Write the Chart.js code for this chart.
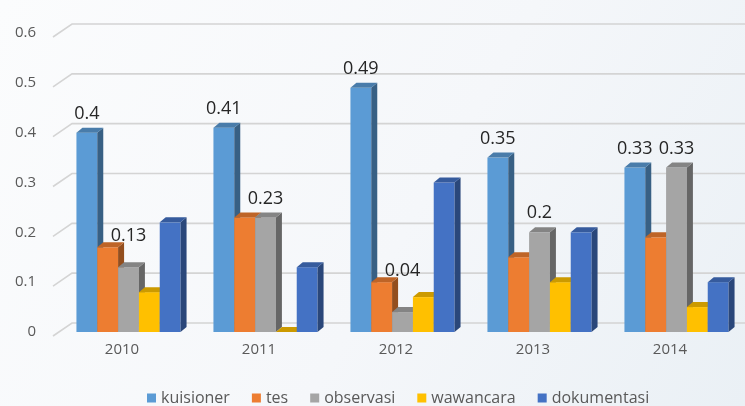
<!DOCTYPE html>
<html>
<head>
<meta charset="utf-8">
<script src="https://cdn.jsdelivr.net/npm/chart.js@4"></script>
<style>
  html, body { margin: 0; padding: 0; }
  body {
    width: 745px; height: 406px; overflow: hidden;
    background: linear-gradient(120deg, #fbfcfd 0%, #f5f7fa 55%, #eaf0f5 100%);
  }
  #wrap { position: relative; width: 745px; height: 406px; }
</style>
</head>
<body>
<div id="wrap"><canvas id="grafik" width="745" height="406"></canvas></div>
<script>
// Metode pengumpulan data per tahun
const tahun = ['2010', '2011', '2012', '2013', '2014'];
const kuisioner = [0.40, 0.41, 0.49, 0.35, 0.33];
const tes = [0.17, 0.23, 0.10, 0.15, 0.19];
const observasi = [0.13, 0.23, 0.04, 0.20, 0.33];
const wawancara = [0.08, 0.00, 0.07, 0.10, 0.05];
const dokumentasi = [0.22, 0.13, 0.30, 0.20, 0.10];

const FONT = '"Open Sans", "Liberation Sans", sans-serif';
const DX = 6, DY = 5; // kedalaman efek 3D

function gelap(hex, f) {
  const n = parseInt(hex.slice(1), 16);
  const r = Math.round(((n >> 16) & 255) * f);
  const g = Math.round(((n >> 8) & 255) * f);
  const b = Math.round((n & 255) * f);
  return `rgb(${r},${g},${b})`;
}

// batang 3D, garis grid miring, label nilai dan legenda digambar sendiri
const batang3d = {
  id: 'batang3d',
  beforeDatasetsDraw(chart) {
    const ctx = chart.ctx;
    const area = chart.chartArea;
    const y = chart.scales.y;

    // garis grid: sisi depan miring lalu dinding belakang
    ctx.save();
    ctx.strokeStyle = '#d4d4d4';
    ctx.lineWidth = 1.6;
    y.ticks.forEach(t => {
      const py = y.getPixelForValue(t.value);
      ctx.beginPath();
      ctx.moveTo(area.left - 7, py + 4);
      ctx.lineTo(area.left + 12, py - 9);
      ctx.lineTo(chart.width, py - 9);
      ctx.stroke();
    });
    ctx.restore();

    // batang per seri
    const puncak = [];
    chart.data.datasets.forEach((ds, i) => {
      const meta = chart.getDatasetMeta(i);
      puncak[i] = [];
      meta.data.forEach((bar, j) => {
        const p = bar.getProps(['x', 'y', 'base', 'width'], true);
        const l = p.x - p.width / 2, r = p.x + p.width / 2;
        const top = Math.min(p.y, p.base);
        puncak[i][j] = { x: p.x, top: top };
        ctx.save();
        ctx.fillStyle = ds.backgroundColor;
        ctx.fillRect(l, top, p.width, p.base - top);
        // sisi kanan
        ctx.fillStyle = gelap(ds.backgroundColor, 0.62);
        ctx.beginPath();
        ctx.moveTo(r, top);
        ctx.lineTo(r + DX, top - DY);
        ctx.lineTo(r + DX, p.base - DY);
        ctx.lineTo(r, p.base);
        ctx.closePath();
        ctx.fill();
        // tutup atas
        ctx.fillStyle = gelap(ds.backgroundColor, 0.8);
        ctx.beginPath();
        ctx.moveTo(l, top);
        ctx.lineTo(r, top);
        ctx.lineTo(r + DX, top - DY);
        ctx.lineTo(l + DX, top - DY);
        ctx.closePath();
        ctx.fill();
        ctx.restore();
      });
    });

    // label nilai
    ctx.save();
    ctx.font = '18px ' + FONT;
    ctx.fillStyle = '#262626';
    ctx.textAlign = 'center';
    ctx.textBaseline = 'middle';
    chart.data.datasets.forEach((ds, i) => {
      if (!ds.berlabel) return;
      ds.data.forEach((v, j) => {
        const b = puncak[i][j];
        let ly = b.top - 19;
        if (i > 0) {
          const kiri = puncak[i - 1][j].top;
          if (ly + 9 > kiri - 2) ly = kiri - 11;
        }
        ctx.fillText(String(v), b.x, ly);
      });
    });
    ctx.restore();
    return false;
  },
  afterDraw(chart) {
    // legenda di bawah
    const ctx = chart.ctx;
    ctx.save();
    ctx.font = '16px ' + FONT;
    ctx.textBaseline = 'middle';
    ctx.textAlign = 'left';
    let x = 147;
    const ly = 398;
    chart.data.datasets.forEach(ds => {
      ctx.fillStyle = ds.backgroundColor;
      ctx.fillRect(x, ly - 4.5, 9, 9);
      ctx.fillStyle = '#595959';
      ctx.fillText(ds.label, x + 14, ly);
      x += 14 + ctx.measureText(ds.label).width + 22;
    });
    ctx.restore();
  }
};

new Chart(document.getElementById('grafik'), {
  type: 'bar',
  data: {
    labels: tahun,
    datasets: [
      { label: 'kuisioner', data: kuisioner, backgroundColor: '#5B9BD5', berlabel: true },
      { label: 'tes', data: tes, backgroundColor: '#ED7D31' },
      { label: 'observasi', data: observasi, backgroundColor: '#A5A5A5', berlabel: true },
      { label: 'wawancara', data: wawancara, backgroundColor: '#FFC000' },
      { label: 'dokumentasi', data: dokumentasi, backgroundColor: '#4472C4' }
    ]
  },
  options: {
    responsive: false,
    animation: false,
    devicePixelRatio: 1,
    layout: { padding: { top: 25, right: -5, left: 0, bottom: 0 } },
    datasets: { bar: { barPercentage: 1, categoryPercentage: 0.76 } },
    plugins: { legend: { display: false }, tooltip: { enabled: false } },
    scales: {
      x: {
        grid: { display: false, drawTicks: false },
        border: { display: false },
        ticks: { color: '#595959', font: { size: 15, family: FONT }, padding: 9, labelOffset: -6.5 },
        afterFit(s) { s.height = 74; }
      },
      y: {
        min: 0,
        max: 0.6,
        grid: { display: false, drawTicks: false },
        border: { display: false },
        ticks: {
          stepSize: 0.1,
          color: '#595959',
          font: { size: 15, family: FONT },
          padding: 24,
          callback: v => String(+v.toFixed(1))
        },
        afterFit(s) { s.width = 60; }
      }
    }
  },
  plugins: [batang3d]
});
</script>
</body>
</html>
